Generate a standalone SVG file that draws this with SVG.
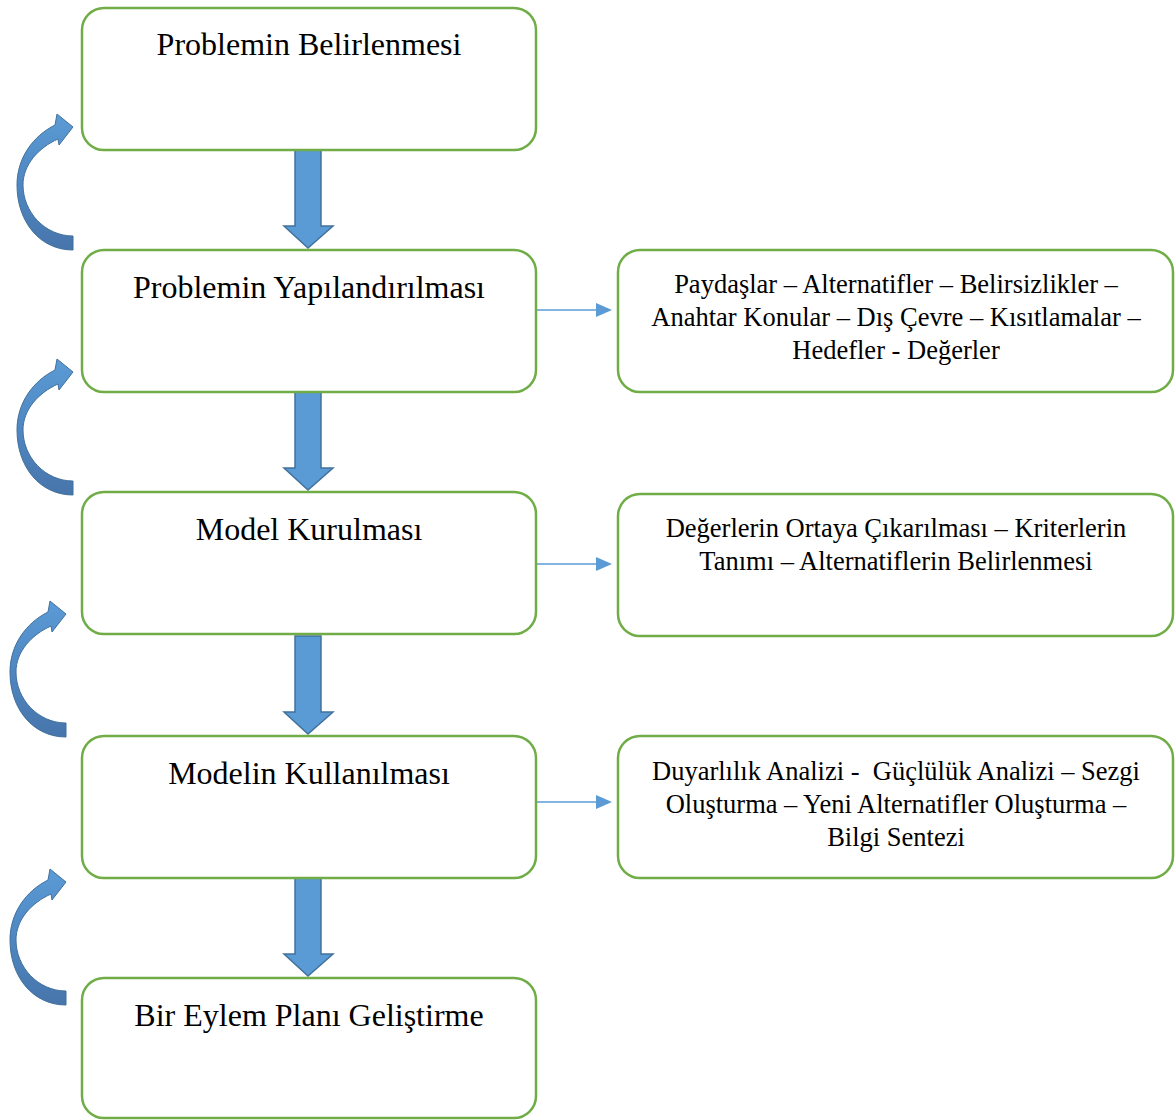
<svg xmlns="http://www.w3.org/2000/svg" width="1175" height="1120" viewBox="0 0 1175 1120">
<style>
.box{fill:#fff;stroke:#70AD47;stroke-width:2.5}
.t{font-family:"Liberation Serif","Times New Roman",serif;font-size:32px;fill:#000;text-anchor:middle}
.s{font-family:"Liberation Serif","Times New Roman",serif;font-size:26.5px;fill:#000;text-anchor:middle}
.blk{fill:#5B9BD5;stroke:#41719C;stroke-width:1.5}
.thin{stroke:#5B9BD5;stroke-width:1.5;fill:none}
.curve{fill:url(#cg);stroke:#41719C;stroke-width:1}
</style>
<defs>
<linearGradient id="cg" x1="0" y1="0" x2="0" y2="1">
<stop offset="0" stop-color="#5B9BD5"/>
<stop offset="0.45" stop-color="#5089C4"/>
<stop offset="1" stop-color="#4775AB"/>
</linearGradient>
<path id="ca" d="M 73 250 C 40 250 17 222 17 185 C 17 158 33 136 55 125 L 57 114 L 73 127 L 59 145 L 58 139 C 38 148 23 165 23 185 C 23 212 45 236 73 236 Z"/>
<path id="ba" d="M 295 150 L 321 150 L 321 226 L 333 226 L 308 248 L 284 226 L 295 226 Z"/>
<marker id="ah" markerWidth="10" markerHeight="10" refX="9" refY="5" orient="auto" markerUnits="userSpaceOnUse" viewBox="0 0 10 10">
<path d="M0 0 L10 5 L0 10 Z" fill="#5B9BD5"/>
</marker>
</defs>
<g id="connectors">
<use href="#ba" class="blk"/>
<use href="#ba" class="blk" transform="translate(0,242)"/>
<use href="#ba" class="blk" transform="translate(0,486)"/>
<use href="#ba" class="blk" transform="translate(0,728)"/>
<line class="thin" x1="537" y1="310" x2="600" y2="310"/>
<path d="M596 303 L612 310 L596 317 Z" fill="#5B9BD5"/>
<line class="thin" x1="537" y1="564" x2="600" y2="564"/>
<path d="M596 557 L612 564 L596 571 Z" fill="#5B9BD5"/>
<line class="thin" x1="537" y1="802" x2="600" y2="802"/>
<path d="M596 795 L612 802 L596 809 Z" fill="#5B9BD5"/>
<use href="#ca" class="curve"/>
<use href="#ca" class="curve" transform="translate(0,245)"/>
<use href="#ca" class="curve" transform="translate(-7,487)"/>
<use href="#ca" class="curve" transform="translate(-7,755)"/>
</g>
<g id="n1"><rect class="box" x="82" y="8" width="454" height="142" rx="22"/><text class="t" x="309" y="55">Problemin Belirlenmesi</text></g>
<g id="n2"><rect class="box" x="82" y="250" width="454" height="142" rx="22"/><text class="t" x="309" y="298">Problemin Yapılandırılması</text></g>
<g id="n3"><rect class="box" x="82" y="492" width="454" height="142" rx="22"/><text class="t" x="309" y="540">Model Kurulması</text></g>
<g id="n4"><rect class="box" x="82" y="736" width="454" height="142" rx="22"/><text class="t" x="309" y="784">Modelin Kullanılması</text></g>
<g id="n5"><rect class="box" x="82" y="978" width="454" height="140" rx="22"/><text class="t" x="309" y="1026">Bir Eylem Planı Geliştirme</text></g>
<g id="r1"><rect class="box" x="618" y="250" width="555" height="142" rx="22"/>
<text class="s" x="896" y="293">Paydaşlar – Alternatifler – Belirsizlikler –</text>
<text class="s" x="896" y="326">Anahtar Konular – Dış Çevre – Kısıtlamalar –</text>
<text class="s" x="896" y="359">Hedefler - Değerler</text></g>
<g id="r2"><rect class="box" x="618" y="494" width="555" height="142" rx="22"/>
<text class="s" x="896" y="537">Değerlerin Ortaya Çıkarılması – Kriterlerin</text>
<text class="s" x="896" y="570">Tanımı – Alternatiflerin Belirlenmesi</text></g>
<g id="r3"><rect class="box" x="618" y="736" width="555" height="142" rx="22"/>
<text class="s" x="896" y="780" xml:space="preserve">Duyarlılık Analizi -  Güçlülük Analizi – Sezgi</text>
<text class="s" x="896" y="813">Oluşturma – Yeni Alternatifler Oluşturma –</text>
<text class="s" x="896" y="846">Bilgi Sentezi</text></g>
</svg>
